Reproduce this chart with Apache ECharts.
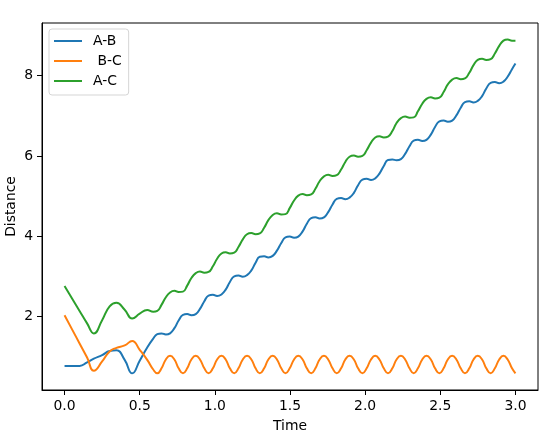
<!DOCTYPE html>
<html>
<head>
<meta charset="utf-8">
<script src="https://cdn.jsdelivr.net/npm/echarts@6/dist/echarts.min.js"></script>
<style>
  html, body { margin: 0; padding: 0; background: #fff; }
  #chart { width: 559px; height: 440px; }
</style>
</head>
<body>
<div id="chart"></div>
<script>
// Distances over time.
var time = [
  0, 0.05, 0.1, 0.15, 0.195, 0.25, 0.3, 0.345, 0.4, 0.45, 0.5, 0.55, 0.59,
  0.617, 0.645, 0.674, 0.702, 0.731, 0.759, 0.788, 0.816, 0.844, 0.873, 0.901, 0.930,
  0.958, 0.987, 1.015, 1.044, 1.072, 1.100, 1.129, 1.157, 1.186, 1.214, 1.243, 1.271,
  1.299, 1.328, 1.356, 1.385, 1.413, 1.442, 1.470, 1.498, 1.527, 1.555, 1.584, 1.612,
  1.641, 1.669, 1.697, 1.726, 1.754, 1.783, 1.811, 1.840, 1.868, 1.896, 1.925, 1.953,
  1.982, 2.010, 2.039, 2.067, 2.095, 2.124, 2.152, 2.181, 2.209, 2.238, 2.266, 2.295,
  2.323, 2.351, 2.380, 2.408, 2.437, 2.465, 2.494, 2.522, 2.550, 2.579, 2.607, 2.636,
  2.664, 2.693, 2.721, 2.749, 2.778, 2.806, 2.835, 2.863, 2.892, 2.920, 2.948, 2.977,
  3.000
];
var distAB = [
  0.765, 0.765, 0.77, 0.86, 0.95, 1.04, 1.14, 1.16, 0.92, 0.585, 0.9, 1.23, 1.45,
  1.56, 1.58, 1.55, 1.58, 1.71, 1.90,
  2.04, 2.06, 2.03, 2.06, 2.19, 2.38,
  2.52, 2.54, 2.51, 2.55, 2.67, 2.86,
  3.00, 3.02, 2.99, 3.03, 3.15, 3.34,
  3.49, 3.50, 3.47, 3.51, 3.64, 3.83,
  3.97, 3.99, 3.96, 3.99, 4.12, 4.31,
  4.45, 4.47, 4.44, 4.47, 4.60, 4.79,
  4.93, 4.95, 4.92, 4.96, 5.08, 5.27,
  5.41, 5.43, 5.40, 5.44, 5.56, 5.75,
  5.90, 5.91, 5.89, 5.92, 6.05, 6.24,
  6.38, 6.40, 6.37, 6.40, 6.53, 6.72,
  6.86, 6.88, 6.85, 6.88, 7.01, 7.20,
  7.34, 7.36, 7.33, 7.37, 7.49, 7.68,
  7.82, 7.84, 7.81, 7.85, 7.97, 8.16,
  8.30
];
var distBC = [
  2.03, 1.68, 1.33, 0.98, 0.65, 0.88, 1.13, 1.22, 1.28, 1.39, 1.17, 0.92, 0.68,
  0.585, 0.71, 0.93, 1.02, 0.93, 0.71,
  0.585, 0.71, 0.93, 1.02, 0.93, 0.71,
  0.585, 0.71, 0.93, 1.02, 0.93, 0.71,
  0.585, 0.71, 0.93, 1.02, 0.93, 0.71,
  0.585, 0.71, 0.93, 1.02, 0.93, 0.71,
  0.585, 0.71, 0.93, 1.02, 0.93, 0.71,
  0.585, 0.71, 0.93, 1.02, 0.93, 0.71,
  0.585, 0.71, 0.93, 1.02, 0.93, 0.71,
  0.585, 0.71, 0.93, 1.02, 0.93, 0.71,
  0.585, 0.71, 0.93, 1.02, 0.93, 0.71,
  0.585, 0.71, 0.93, 1.02, 0.93, 0.71,
  0.585, 0.71, 0.93, 1.02, 0.93, 0.71,
  0.585, 0.71, 0.93, 1.02, 0.93, 0.71,
  0.585, 0.71, 0.93, 1.02, 0.93, 0.71,
  0.585
];
var distAC = [
  2.76, 2.45, 2.14, 1.83, 1.58, 1.91, 2.25, 2.34, 2.17, 1.95, 2.07, 2.16, 2.12,
  2.14, 2.29, 2.48, 2.60, 2.64, 2.61,
  2.62, 2.77, 2.96, 3.08, 3.12, 3.09,
  3.11, 3.25, 3.44, 3.57, 3.60, 3.57,
  3.59, 3.73, 3.92, 4.05, 4.08, 4.05,
  4.07, 4.21, 4.40, 4.53, 4.57, 4.54,
  4.55, 4.70, 4.89, 5.01, 5.05, 5.02,
  5.04, 5.18, 5.37, 5.49, 5.53, 5.50,
  5.52, 5.66, 5.85, 5.98, 6.01, 5.98,
  6.00, 6.14, 6.33, 6.46, 6.49, 6.46,
  6.48, 6.62, 6.82, 6.94, 6.98, 6.95,
  6.96, 7.11, 7.30, 7.42, 7.46, 7.43,
  7.45, 7.59, 7.78, 7.90, 7.94, 7.91,
  7.93, 8.07, 8.26, 8.39, 8.42, 8.39,
  8.41, 8.55, 8.74, 8.87, 8.90, 8.87,
  8.87
];
var xTicks = [0, 0.5, 1, 1.5, 2, 2.5, 3];
var yTicks = [2, 4, 6, 8];
var seriesNames = ["A-B", " B-C", "A-C"];
var seriesColors = ["#1f77b4", "#ff7f0e", "#2ca02c"];

(function () {
  var FONT = "DejaVu Sans";
  function pairs(vals) { return time.map(function (t, i) { return [t, vals[i]]; }); }
  function line(name, color, vals) {
    return {
      name: name, type: "line", data: pairs(vals),
      symbol: "none", smooth: 0.5,
      lineStyle: { width: 2, color: color }, itemStyle: { color: color }
    };
  }

  var c = echarts.init(document.getElementById("chart"), null, { renderer: "canvas" });
  c.setOption({
    animation: false,
    backgroundColor: "#fff",
    grid: { left: 42, right: 21, top: 23, bottom: 50, outerBoundsMode: "none", containLabel: false,
      show: true, borderColor: "#000", borderWidth: 1 },
    legend: {
      orient: "vertical", left: 49, top: 29,
      data: seriesNames, icon: "rect", itemWidth: 28, itemHeight: 2, itemGap: 6,
      padding: [5, 7, 7, 5],
      backgroundColor: "rgba(255,255,255,0.8)", borderColor: "#d5d5d5", borderWidth: 1, borderRadius: 3,
      textStyle: { fontFamily: FONT, fontSize: 13.9, color: "#000", padding: [0, 0, 0, 6] }
    },
    xAxis: {
      type: "value", min: -0.15, max: 3.15,
      name: "Time", nameLocation: "middle", nameGap: 29, nameMoveOverlap: false,
      nameTextStyle: { fontFamily: FONT, fontSize: 13.9, color: "#000" },
      axisLine: { show: true, onZero: false, lineStyle: { color: "#000", width: 1 } },
      axisTick: { show: true, length: 5, lineStyle: { color: "#000" }, customValues: xTicks },
      axisLabel: { margin: 9, fontFamily: FONT, fontSize: 13.9, color: "#000", customValues: xTicks,
        formatter: function (v) { return Number(v).toFixed(1); } },
      splitLine: { show: false }
    },
    yAxis: {
      type: "value", min: 0.17, max: 9.31,
      name: "Distance", nameLocation: "middle", nameGap: 24, nameMoveOverlap: false,
      nameTextStyle: { fontFamily: FONT, fontSize: 13.9, color: "#000" },
      axisLine: { show: true, onZero: false, lineStyle: { color: "#000", width: 1 } },
      axisTick: { show: true, length: 5, lineStyle: { color: "#000" }, customValues: yTicks },
      axisLabel: { margin: 9, fontFamily: FONT, fontSize: 13.9, color: "#000", customValues: yTicks,
        formatter: function (v) { return String(Math.round(v)); } },
      splitLine: { show: false }
    },
    series: [
      line(seriesNames[0], seriesColors[0], distAB),
      line(seriesNames[1], seriesColors[1], distBC),
      line(seriesNames[2], seriesColors[2], distAC)
    ]
  });
})();
</script>
</body>
</html>
